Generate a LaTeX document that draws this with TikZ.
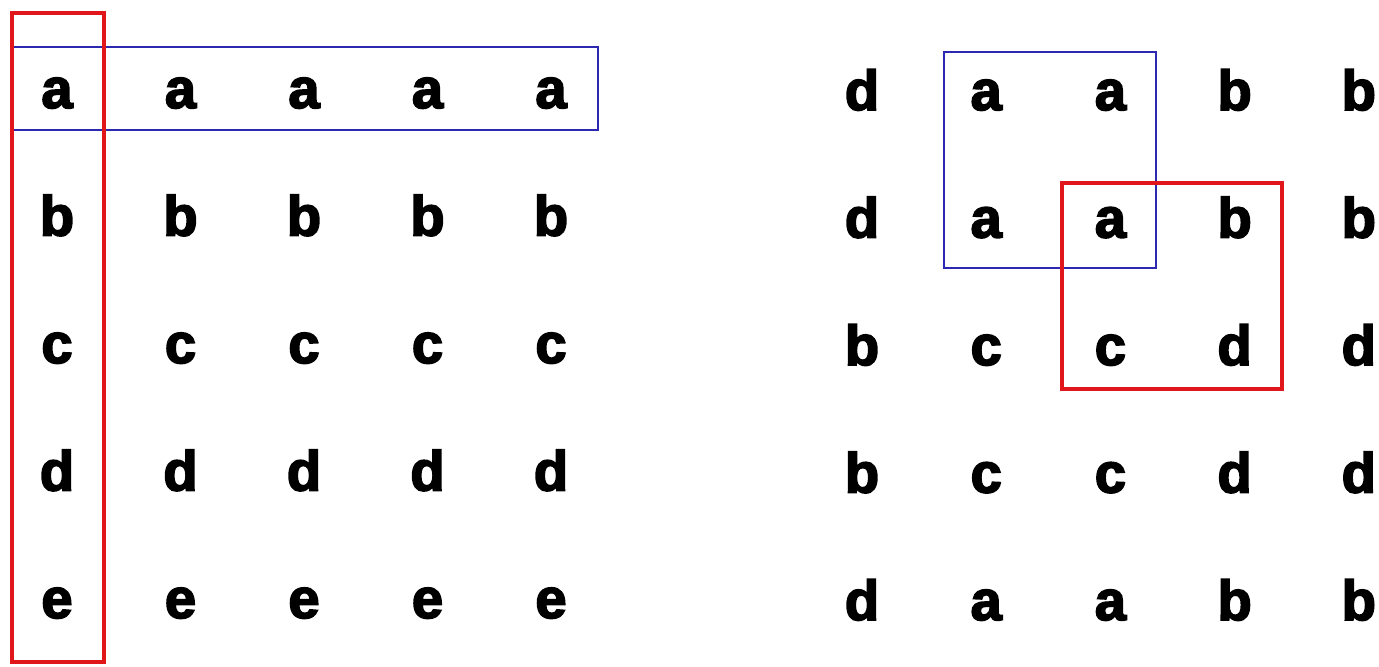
\documentclass[tikz,border=0pt]{standalone}
\usepackage{fontspec}
\usetikzlibrary{positioning}
\newfontfamily\letterfont{Liberation Sans Bold}[FakeBold=3]
\definecolor{boxred}{RGB}{224,22,26}
\definecolor{boxblue}{RGB}{44,40,176}
\tikzset{
  letter/.style={font=\letterfont\fontsize{32}{32}\selectfont,anchor=base,inner sep=0pt},
  redbox/.style={draw=boxred,line width=2.3pt},
  bluebox/.style={draw=boxblue,line width=0.85pt},
}

\begin{document}
\begin{tikzpicture}[x=0.02cm,y=-0.02cm]
\fill[white] (0,0) rectangle (1379,666);
\useasboundingbox (0,0) rectangle (1379,666);
% left grid: one letter per row
\begin{scope}
  \foreach \ch [count=\r from 0] in {a,b,c,d,e} {
    \foreach \c in {0,...,4} {
      \node[letter] (L-\r-\c) at (57+123.5*\c,108+127.5*\r) {\ch};
    }
  }
  \draw[bluebox] (12,47) rectangle (598,130);
  \draw[redbox] (12,13) rectangle (104,662);
\end{scope}
% right grid: mixed letters
\begin{scope}
  \foreach \row [count=\r from 0] in {{d,a,a,b,b},{d,a,a,b,b},{b,c,c,d,d},{b,c,c,d,d},{d,a,a,b,b}} {
    \foreach \ch [count=\c from 0] in \row {
      \node[letter] (R-\r-\c) at (862+124.2*\c,110+127.5*\r) {\ch};
    }
  }
  \draw[bluebox] (944,52) rectangle (1156,268);
  \draw[redbox] (1062,183) rectangle (1282,389);
\end{scope}
\end{tikzpicture}
\end{document}
